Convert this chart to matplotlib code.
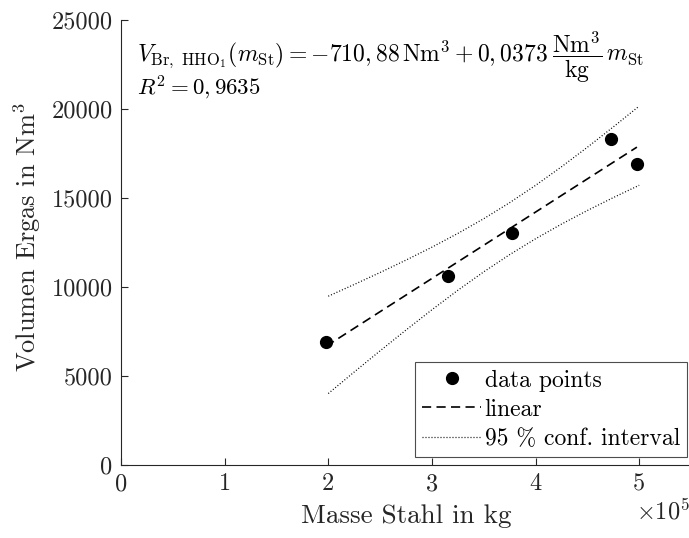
import matplotlib
matplotlib.use("Agg")
import matplotlib.pyplot as plt
from matplotlib.ticker import FuncFormatter, FixedLocator
from matplotlib.transforms import offset_copy
import numpy as np

plt.rcParams['font.family'] = 'serif'
plt.rcParams['font.serif'] = ['cmr10']
plt.rcParams['mathtext.fontset'] = 'cm'
plt.rcParams['axes.formatter.use_mathtext'] = True
plt.rcParams['axes.unicode_minus'] = False

# data points
mass_kg = [1.979e5, 3.159e5, 3.771e5, 4.727e5, 4.978e5]
volume_nm3 = [6910, 10618, 13051, 18331, 16927]

# linear fit coefficients (from equation shown)
intercept = -710.88
slope = 0.0373

# 95 % confidence interval
ci_x = [2.0e5, 2.25e5, 2.5e5, 2.75e5, 3.0e5, 3.25e5, 3.5e5, 3.75e5,
        4.0e5, 4.25e5, 4.5e5, 4.75e5, 5.0e5]
ci_upper = [9483, 10141, 10814, 11511, 12237, 13009, 13837, 14736,
            15709, 16752, 17850, 18992, 20163]
ci_lower = [4015, 5223, 6414, 7583, 8721, 9815, 10851, 11818,
            12709, 13532, 14298, 15022, 15715]

x_ticks = [0, 1e5, 2e5, 3e5, 4e5, 5e5]
y_ticks = [0, 5000, 10000, 15000, 20000, 25000]

W, H = 689, 538
fig = plt.figure(figsize=(W / 100, H / 100), dpi=100)
ax = fig.add_axes([121 / W, 73 / H, 570 / W, 445 / H])

axc = '0.15'
fit_x = np.array([min(mass_kg), max(mass_kg)])
fit_y = intercept + slope * fit_x

ax.plot(mass_kg, volume_nm3, 'o', color='black', markersize=8.5, label='data points', zorder=3)
ax.plot(fit_x, fit_y, color='black', lw=1.2, linestyle=(0, (5.5, 3.2)), label='linear')
ax.plot(ci_x, ci_upper, color='black', lw=0.9, linestyle=(0, (0.8, 1.6)), label='95 % conf. interval')
ax.plot(ci_x, ci_lower, color='black', lw=0.9, linestyle=(0, (0.8, 1.6)))

ax.set_xlim(0, 5.5e5)
ax.set_ylim(0, 25000)
ax.xaxis.set_major_locator(FixedLocator(x_ticks))
ax.yaxis.set_major_locator(FixedLocator(y_ticks))
ax.xaxis.set_major_formatter(FuncFormatter(lambda v, p: f"{v / 1e5:g}"))
ax.yaxis.set_major_formatter(FuncFormatter(lambda v, p: f"{v:g}"))

for s in ['top', 'right']:
    ax.spines[s].set_visible(False)
for s in ['left', 'bottom']:
    ax.spines[s].set_color(axc)
    ax.spines[s].set_linewidth(0.8)
ax.tick_params(direction='in', length=5, width=0.8, colors=axc, labelsize=17.5, pad=6)

ax.set_xlabel('Masse Stahl in kg', fontsize=19.5, color=axc, labelpad=6)
ax.set_ylabel(r'Volumen Ergas in Nm$^3$', fontsize=19, color=axc, labelpad=6)
ax.yaxis.label.set_y(0.513)

fig.text(663 / W, 1 - 511 / H, r'$\times10^5$', fontsize=17.5, color=axc, ha='center', va='center')

t1 = fig.text(137 / W, 1 - 61 / H,
              r'$V_{\mathrm{Br,\ HHO}_1}(m_{\mathrm{St}}) = -710,88\,\mathrm{Nm}^3 + 0,0373$',
              fontsize=17, color='black', va='baseline', ha='left')
fig.canvas.draw()
bb = t1.get_window_extent()
tr = offset_copy(fig.transFigure, fig=fig, x=(bb.x1 - 137) * 72 / fig.dpi + 3, y=0, units='points')
fig.text(137 / W, 1 - 61 / H,
         r'$\dfrac{\mathrm{Nm}^3}{\mathrm{kg}}\,m_{\mathrm{St}}$',
         transform=tr, fontsize=17, color='black', va='baseline', ha='left')
fig.text(137 / W, 1 - 95 / H, r'$R^2 = 0,9635$',
         fontsize=16.5, color='black', va='baseline', ha='left')

leg = ax.legend(loc='lower right', bbox_to_anchor=(687 / W, 1 - 457 / H),
                bbox_transform=fig.transFigure, fontsize=17, frameon=True, fancybox=False,
                framealpha=1, edgecolor='0.3', borderaxespad=0, handlelength=2.5,
                handletextpad=0.15, labelspacing=0.3, borderpad=0.3)
leg.get_frame().set_linewidth(0.8)

fig.savefig('out.png', dpi=100)
